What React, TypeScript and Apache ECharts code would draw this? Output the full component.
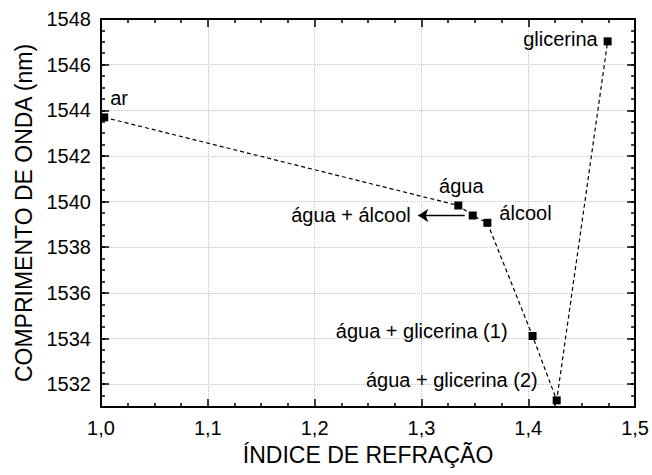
import React, { useEffect, useRef } from "react";
import * as echarts from "echarts";

const categories = [
  "ar",
  "água",
  "água + álcool",
  "álcool",
  "água + glicerina (1)",
  "água + glicerina (2)",
  "glicerina",
];
const refractiveIndex = [1.003, 1.3345, 1.348, 1.3617, 1.404, 1.4266, 1.4743];
const wavelength = [1543.69, 1539.83, 1539.39, 1539.07, 1534.11, 1531.29, 1547.02];
const yLabelValues = [1532, 1534, 1536, 1538, 1540, 1542, 1544, 1546, 1548];
const arrowFrom = [1.3405, 1539.39];
const arrowTo = [1.297, 1539.39];

// label placement (style only)
const labelPlacement: { position: string; offset: number[] }[] = [
  { position: "right", offset: [-3, -19] },
  { position: "top", offset: [3, 0] },
  { position: "left", offset: [-53, -1] },
  { position: "right", offset: [3, -10] },
  { position: "left", offset: [-16, -5] },
  { position: "left", offset: [-10, -20] },
  { position: "left", offset: [-1, -2] },
];

const FONT = "'Liberation Sans', Arial, sans-serif";

export default function App() {
  const ref = useRef<HTMLDivElement>(null);
  useEffect(() => {
    if (!ref.current) return;
    const chart = echarts.init(ref.current, null, { renderer: "svg" });
    const data = categories.map((name, i) => ({
      name,
      value: [refractiveIndex[i], wavelength[i]],
      label: {
        show: true,
        formatter: name,
        position: labelPlacement[i].position as any,
        offset: labelPlacement[i].offset,
        distance: 5,
        color: "#000",
        fontSize: 20,
        fontFamily: FONT,
      },
    }));
    const baseX = {
      type: "value",
      min: 1.0,
      max: 1.5,
      interval: 0.1,
      axisLine: { show: true, onZero: false, lineStyle: { color: "#000", width: 2 } },
      axisTick: { show: true, inside: true, length: 8, lineStyle: { color: "#000", width: 1.5 } },
      minorTick: { show: true, splitNumber: 4, length: 4, lineStyle: { color: "#000", width: 1.5 } },
    };
    const baseYFine = {
      type: "value",
      min: 1531,
      max: 1548,
      interval: 0.5,
      axisLine: { show: true, onZero: false, lineStyle: { color: "#000", width: 2 } },
      axisTick: { show: true, inside: true, length: 4, lineStyle: { color: "#000", width: 1.5 } },
    };
    const baseYMajor = {
      type: "value",
      min: 1531,
      max: 1548,
      interval: 0.5,
      axisLine: { show: false },
      axisLabel: { show: false },
      splitLine: { show: false },
      axisTick: {
        show: true,
        inside: true,
        length: 8,
        customValues: yLabelValues,
        lineStyle: { color: "#000", width: 1.5 },
      },
    };
    chart.setOption({
      animation: false,
      backgroundColor: "#fff",
      grid: { left: 101, right: 16, top: 19, bottom: 68, containLabel: false },
      xAxis: [
        {
          ...baseX,
          position: "bottom",
          name: "ÍNDICE DE REFRAÇÃO",
          nameLocation: "middle",
          nameGap: 36,
          nameTextStyle: { color: "#000", fontSize: 23, fontFamily: FONT },
          axisLabel: {
            color: "#000",
            fontSize: 20,
            fontFamily: FONT,
            margin: 11,
            formatter: (v: number) => v.toFixed(1).replace(".", ","),
          },
          splitLine: { show: true, lineStyle: { color: "#c4c4c4", type: "dotted", width: 1 } },
        },
        {
          ...baseX,
          position: "top",
          axisLabel: { show: false },
          splitLine: { show: false },
        },
      ],
      yAxis: [
        {
          ...baseYFine,
          position: "left",
          name: "COMPRIMENTO DE ONDA (nm)",
          nameLocation: "middle",
          nameGap: 64,
          nameTextStyle: { color: "#000", fontSize: 23, fontFamily: FONT },
          axisLabel: {
            color: "#000",
            fontSize: 20,
            fontFamily: FONT,
            margin: 10,
            formatter: (v: number) => (Math.abs(v % 2) < 1e-9 ? String(v) : ""),
          },
          splitLine: {
            show: true,
            lineStyle: {
              color: ["rgba(0,0,0,0)", "rgba(0,0,0,0)", "#c4c4c4", "rgba(0,0,0,0)"],
              type: "dotted",
              width: 1,
            },
          },
        },
        {
          ...baseYFine,
          position: "right",
          axisLabel: { show: false },
          splitLine: { show: false },
        },
        { ...baseYMajor, position: "left" },
        { ...baseYMajor, position: "right" },
      ],
      series: [
        {
          type: "line",
          xAxisIndex: 0,
          yAxisIndex: 0,
          data,
          symbol: "rect",
          symbolSize: 8,
          itemStyle: { color: "#000" },
          lineStyle: { color: "#000", width: 1.2, type: [4, 3] },
          z: 5,
          markLine: {
            silent: true,
            symbol: ["none", "arrow"],
            symbolSize: 10,
            label: { show: false },
            lineStyle: { color: "#000", width: 1.3, type: "solid" },
            data: [[{ coord: arrowFrom }, { coord: arrowTo }]],
          },
        },
      ],
    });
    return () => chart.dispose();
  }, []);
  return (
    <div
      ref={ref}
      style={{ position: "absolute", left: 0, top: 0, width: 652, height: 475 }}
    />
  );
}
